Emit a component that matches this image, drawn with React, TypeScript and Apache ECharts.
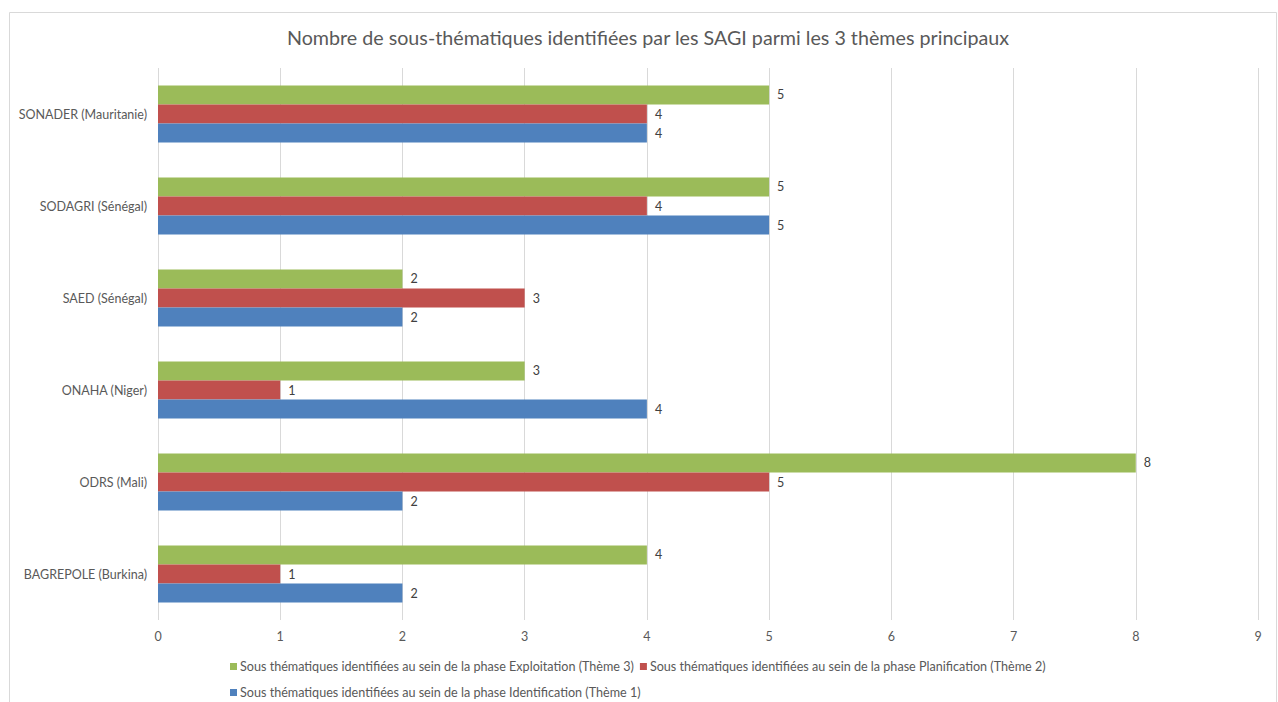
import React, { useEffect, useRef } from "react";
import * as echarts from "echarts";

const categories = [
  "BAGREPOLE (Burkina)",
  "ODRS (Mali)",
  "ONAHA (Niger)",
  "SAED (Sénégal)",
  "SODAGRI (Sénégal)",
  "SONADER (Mauritanie)",
];
const identification = [2, 2, 4, 2, 5, 4];
const planification = [1, 5, 1, 3, 4, 4];
const exploitation = [4, 8, 3, 2, 5, 5];

const nameIdent = "Sous thématiques identifiées au sein de la phase Identification (Thème 1)";
const namePlan = "Sous thématiques identifiées au sein de la phase Planification (Thème 2)";
const nameExpl = "Sous thématiques identifiées au sein de la phase Exploitation (Thème 3)";

const FONT = "Lato, 'Open Sans', sans-serif";
const TXT = "#595959";

export default function App() {
  const ref = useRef<HTMLDivElement>(null);
  useEffect(() => {
    if (!ref.current) return;
    const chart = echarts.init(ref.current, undefined, { renderer: "svg" });
    const label = {
      show: true,
      position: "right",
      distance: 8,
      color: "#404040",
      fontSize: 12.5,
      fontFamily: FONT,
    };
    chart.setOption({
      animation: false,
      backgroundColor: "#ffffff",
      textStyle: { fontFamily: FONT },
      title: {
        text: "Nombre de sous-thématiques identifiées par les SAGI parmi les 3 thèmes principaux",
        left: 643,
        textAlign: "center",
        top: 22,
        textStyle: { fontSize: 19.7, fontWeight: "normal", color: TXT, fontFamily: FONT },
      },
      graphic: [
        {
          type: "rect",
          shape: { x: 9.5, y: 12.5, width: 1267, height: 700 },
          style: { fill: "none", stroke: "#d9d9d9", lineWidth: 1 },
          silent: true,
        },
      ],
      legend: [
        {
          data: [nameExpl, namePlan],
          left: 225,
          top: 655,
          itemWidth: 7,
          itemHeight: 7,
          itemGap: 6,
          icon: "rect",
          textStyle: { fontSize: 12.6, color: TXT, fontFamily: FONT, padding: [0, 0, 0, -2] },
        },
        {
          data: [nameIdent],
          left: 225,
          top: 681,
          itemWidth: 7,
          itemHeight: 7,
          icon: "rect",
          textStyle: { fontSize: 12.6, color: TXT, fontFamily: FONT, padding: [0, 0, 0, -2] },
        },
      ],
      grid: { left: 158, right: 20, top: 68, bottom: 82, containLabel: false },
      xAxis: {
        type: "value",
        min: 0,
        max: 9,
        interval: 1,
        axisLine: { show: false },
        axisTick: { show: false },
        splitLine: { show: true, lineStyle: { color: "#d9d9d9", width: 1 } },
        axisLabel: { color: TXT, fontSize: 12.5, margin: 10, fontFamily: FONT },
      },
      yAxis: {
        type: "category",
        data: categories,
        axisLine: { show: false },
        axisTick: { show: false },
        axisLabel: { color: TXT, fontSize: 12.5, margin: 11, fontFamily: FONT },
      },
      series: [
        {
          name: nameExpl,
          type: "bar",
          data: exploitation,
          itemStyle: { color: "#9BBB59" },
          barGap: "0%",
          barCategoryGap: "38%",
          label,
        },
        {
          name: namePlan,
          type: "bar",
          data: planification,
          itemStyle: { color: "#C0504D" },
          barGap: "0%",
          barCategoryGap: "38%",
          label,
        },
        {
          name: nameIdent,
          type: "bar",
          data: identification,
          itemStyle: { color: "#4F81BD" },
          barGap: "0%",
          barCategoryGap: "38%",
          label,
        },
      ],
    });
    return () => chart.dispose();
  }, []);
  return (
    <div
      ref={ref}
      style={{ position: "absolute", left: 0, top: 0, width: 1278, height: 702 }}
    />
  );
}
